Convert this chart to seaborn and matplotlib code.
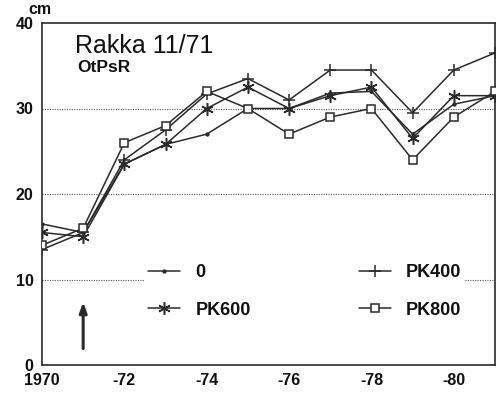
import numpy as np
import pandas as pd
import matplotlib
matplotlib.use("Agg")
import matplotlib.pyplot as plt
import seaborn as sns
from matplotlib.lines import Line2D

years = [1970, 1971, 1972, 1973, 1974, 1975, 1976, 1977, 1978, 1979, 1980, 1981]
s_0     = [16.5, 15.5, 23.5, 25.8, 27.0, 30.0, 30.0, 31.8, 32.0, 27.0, 30.5, 31.5]
s_pk400 = [13.5, 15.5, 24.0, 27.5, 31.7, 33.5, 31.0, 34.5, 34.5, 29.5, 34.5, 36.5]
s_pk600 = [15.5, 15.0, 23.5, 25.8, 30.0, 32.5, 30.0, 31.5, 32.5, 26.5, 31.5, 31.5]
s_pk800 = [14.0, 16.0, 26.0, 28.0, 32.0, 30.0, 27.0, 29.0, 30.0, 24.0, 29.0, 32.0]
series_names = ["0", "PK400", "PK600", "PK800"]
xtick_labels = ["1970", "-72", "-74", "-76", "-78", "-80"]
ytick_vals = [0, 10, 20, 30, 40]

sns.set_theme(style="white")
plt.rcParams['font.family'] = ['Liberation Sans', 'DejaVu Sans']

df = pd.DataFrame({
    "year": years * 4,
    "value": s_0 + s_pk400 + s_pk600 + s_pk800,
    "series": sum([[n] * len(years) for n in series_names], []),
})

fig = plt.figure(figsize=(5.02, 3.96), dpi=100)
ax = fig.add_axes([42/502, 1-365/396, 453/502, 342/396])

ink = "#2a2a2a"
markers = {"0": "o", "PK400": "+", "PK600": (6, 2, 0), "PK800": "s"}
sizes = {"0": 2, "PK400": 9, "PK600": 9, "PK800": 6}
for name in series_names:
    sub = df[df.series == name]
    sns.lineplot(data=sub, x="year", y="value", ax=ax, color=ink, lw=1.1,
                 marker=markers[name], markersize=sizes[name],
                 markerfacecolor="white" if name == "PK800" else ink,
                 markeredgecolor=ink, markeredgewidth=1.1, legend=False,
                 zorder=3)

ax.set_xlim(1970, 1981)
ax.set_ylim(0, 40)
ax.set_xlabel("")
ax.set_ylabel("")
ax.set_xticks(range(1970, 1981))
ax.set_xticklabels([xtick_labels[i // 2] if i % 2 == 0 else "" for i in range(11)],
                   fontsize=11.5, fontweight="bold", color="#111")
ax.set_yticks(ytick_vals)
ax.set_yticklabels([str(v) for v in ytick_vals], fontsize=11.5, fontweight="bold", color="#111")
ax.tick_params(axis="x", direction="in", length=5, width=1, color=ink, pad=6)
ax.tick_params(axis="y", length=0, pad=6)
for y in [10, 20, 30]:
    ax.axhline(y, color="#555", lw=0.8, ls=(0, (1, 1.2)), zorder=1)
for sp in ax.spines.values():
    sp.set_color(ink)
    sp.set_linewidth(1.2)

ax.text(0.073, 0.968, "Rakka 11/71", transform=ax.transAxes, fontsize=18,
        va="top", ha="left", color="#111")
ax.text(0.077, 0.893, "OtPsR", transform=ax.transAxes, fontsize=12.5,
        fontweight="bold", va="top", ha="left", color="#111")
fig.text(28/502, 1-10/396, "cm", fontsize=11.5, fontweight="bold", va="center", ha="left", color="#111")

ax.annotate("", xy=(1971, 7.7), xytext=(1971, 1.6),
            arrowprops=dict(arrowstyle="-|>,head_length=0.5,head_width=0.18",
                            color=ink, lw=2.2))

handles = [Line2D([], [], color=ink, lw=1.1, marker=markers[n], markersize=sizes[n],
                  markerfacecolor="white" if n == "PK800" else ink,
                  markeredgecolor=ink, markeredgewidth=1.1)
           for n in ["0", "PK600", "PK400", "PK800"]]
leg = ax.legend(handles, ["0", "PK600", "PK400", "PK800"], ncol=2,
                loc="center left", bbox_to_anchor=(0.207, 0.215),
                frameon=True, fancybox=False, framealpha=1, edgecolor="none",
                facecolor="white", handlelength=1.75, handletextpad=0.85,
                columnspacing=6.0, labelspacing=1.12, borderpad=0.2,
                prop=dict(size=13, weight="bold"))
for t in leg.get_texts():
    t.set_color("#111")

fig.savefig("out.png", dpi=100)
